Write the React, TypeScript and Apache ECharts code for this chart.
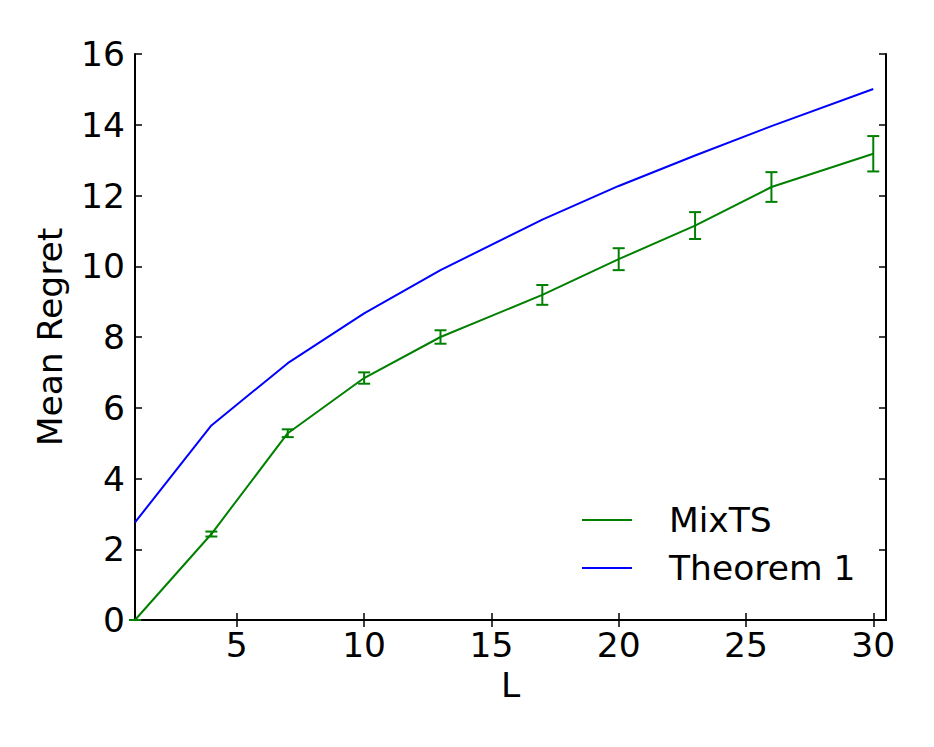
import React, { useEffect, useRef } from "react";
import * as echarts from "echarts";

const L_VALUES = [1, 4, 7, 10, 13, 17, 20, 23, 26, 30];
const MIXTS_MEAN = [0.0, 2.43, 5.28, 6.84, 8.0, 9.19, 10.2, 11.15, 12.24, 13.18];
const MIXTS_ERR = [0.0, 0.07, 0.11, 0.16, 0.19, 0.28, 0.31, 0.38, 0.42, 0.5];
const THEOREM1 = [2.76, 5.5, 7.26, 8.67, 9.89, 11.32, 12.27, 13.13, 13.96, 15.01];
const X_TICKS = [5, 10, 15, 20, 25, 30];

const FONT = "DejaVu Sans";
const FS = 34.5;

export default function App() {
  const ref = useRef<HTMLDivElement>(null);
  useEffect(() => {
    document.body.style.margin = "0";
    const chart = echarts.init(ref.current!, null, { renderer: "svg" });
    const axisLine = { show: true, lineStyle: { color: "#000", width: 2 } };
    const tick = { show: true, inside: true, length: 7, lineStyle: { color: "#000", width: 1.5 } };
    const errData = L_VALUES.map((x, i) => [x, MIXTS_MEAN[i] - MIXTS_ERR[i], MIXTS_MEAN[i] + MIXTS_ERR[i]]);
    chart.setOption({
      animation: false,
      backgroundColor: "#fff",
      textStyle: { fontFamily: FONT },
      grid: { left: 135, top: 54, right: 48, bottom: 127, containLabel: false },
      xAxis: [
        {
          type: "value",
          min: 1,
          max: 30.5,
          name: "L",
          nameLocation: "middle",
          nameGap: 47,
          nameTextStyle: { fontFamily: FONT, fontSize: FS, color: "#000" },
          axisLine,
          axisTick: { ...tick, customValues: X_TICKS },
          axisLabel: { customValues: X_TICKS, fontFamily: FONT, fontSize: FS, color: "#000", margin: 7 },
          splitLine: { show: false },
        },
        {
          type: "value",
          position: "top",
          min: 1,
          max: 30.5,
          axisLine,
          axisTick: { ...tick, customValues: X_TICKS },
          axisLabel: { show: false, customValues: X_TICKS },
          splitLine: { show: false },
        },
      ],
      yAxis: [
        {
          type: "value",
          min: 0,
          max: 16,
          interval: 2,
          name: "Mean Regret",
          nameLocation: "middle",
          nameGap: 68,
          nameTextStyle: { fontFamily: FONT, fontSize: FS, color: "#000" },
          axisLine,
          axisTick: tick,
          axisLabel: { fontFamily: FONT, fontSize: FS, color: "#000", margin: 10 },
          splitLine: { show: false },
        },
        {
          type: "value",
          position: "right",
          min: 0,
          max: 16,
          interval: 2,
          axisLine,
          axisTick: tick,
          axisLabel: { show: false },
          splitLine: { show: false },
        },
      ],
      legend: {
        data: ["MixTS", "Theorem 1"],
        orient: "vertical",
        left: 577,
        top: 494,
        icon: "rect",
        itemWidth: 50,
        itemHeight: 2,
        itemGap: 6,
        textStyle: { fontFamily: FONT, fontSize: FS, color: "#000", lineHeight: 42, padding: [0, 0, 0, 32] },
      },
      series: [
        {
          name: "MixTS",
          type: "line",
          data: L_VALUES.map((x, i) => [x, MIXTS_MEAN[i]]),
          showSymbol: false,
          lineStyle: { color: "#008000", width: 2 },
          itemStyle: { color: "#008000" },
          z: 3,
        },
        {
          name: "MixTS err",
          type: "custom",
          data: errData,
          z: 4,
          renderItem: (params: any, api: any) => {
            const x = api.value(0);
            const lo = api.coord([x, api.value(1)]);
            const hi = api.coord([x, api.value(2)]);
            const hw = 6;
            const style = { stroke: "#008000", lineWidth: 2 };
            return {
              type: "group",
              children: [
                { type: "line", shape: { x1: lo[0], y1: lo[1], x2: hi[0], y2: hi[1] }, style },
                { type: "line", shape: { x1: lo[0] - hw, y1: lo[1], x2: lo[0] + hw, y2: lo[1] }, style },
                { type: "line", shape: { x1: hi[0] - hw, y1: hi[1], x2: hi[0] + hw, y2: hi[1] }, style },
              ],
            };
          },
        },
        {
          name: "Theorem 1",
          type: "line",
          data: L_VALUES.map((x, i) => [x, THEOREM1[i]]),
          showSymbol: false,
          lineStyle: { color: "#0000ff", width: 2 },
          itemStyle: { color: "#0000ff" },
          z: 3,
        },
      ],
    });
    return () => chart.dispose();
  }, []);
  return <div ref={ref} style={{ width: 934, height: 747 }} />;
}
